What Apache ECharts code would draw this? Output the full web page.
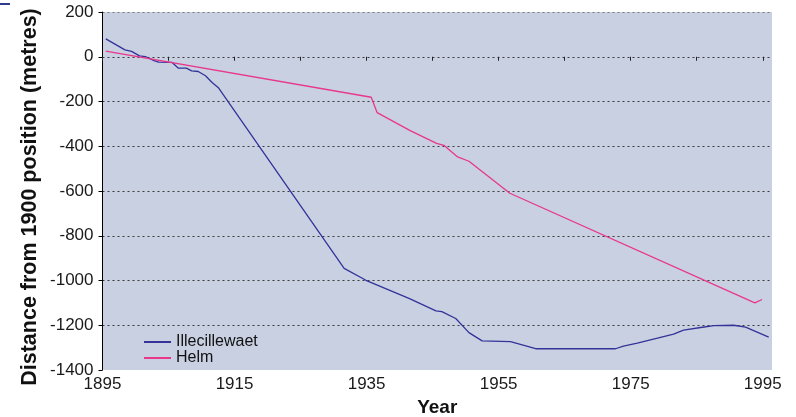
<!DOCTYPE html>
<html>
<head>
<meta charset="utf-8">
<script src="https://cdn.jsdelivr.net/npm/echarts@6/dist/echarts.min.js"></script>
<style>html,body{margin:0;padding:0;background:#fff}#c{width:796px;height:417px}</style>
</head>
<body>
<div id="c"></div>
<script>
const seriesNames = ['Illecillewaet', 'Helm'];
const illeYears = [1895.5,1898.4,1899.4,1900.6,1901.5,1902.8,1903.5,1905.5,1906.5,1907.7,1908.5,1909.5,1910.6,1911.6,1912.6,1931.6,1934.9,1941.5,1945.5,1946.4,1948.5,1950.5,1952.5,1956.8,1960.6,1972.7,1973.9,1976,1981.5,1983,1985.6,1987.6,1990.6,1992.4,1995.9];
const illeValues = [80,31,24,4,1,-17,-24,-25,-51,-51,-63,-66,-85,-115,-140,-946,-999,-1081,-1136,-1139,-1170,-1233,-1270,-1273,-1305,-1305,-1293,-1280,-1240,-1222,-1210,-1202,-1200,-1208,-1253];
const helmYears = [1895.5,1935.7,1936.6,1941.6,1945.6,1946.7,1948.7,1950.5,1956.7,1993.8,1994.9];
const helmValues = [25,-181,-250,-330,-387,-396,-446,-467,-610,-1100,-1085];
const xTickValues = [1895,1905,1915,1925,1935,1945,1955,1965,1975,1985,1995];
const xLabelValues = [1895,1915,1935,1955,1975,1995];
const yTitle = 'Distance from 1900 position (metres)';
const xTitle = 'Year';

const chart = echarts.init(document.getElementById('c'), null, {renderer: 'canvas'});
const pair = (xs, ys) => xs.map((x, i) => [x, ys[i]]);
chart.setOption({
  animation: false,
  textStyle: {fontFamily: 'Liberation Sans, Arial, sans-serif'},
  grid: {left: 102.5, right: 24, top: 12, bottom: 47, outerBoundsMode: 'none', containLabel: false,
         show: true, backgroundColor: '#C8D0E2', borderWidth: 0},
  legend: {
    orient: 'vertical', left: 139, top: 329, itemWidth: 27, itemHeight: 2, itemGap: 0,
    icon: 'rect',
    textStyle: {fontSize: 16, color: '#111', lineHeight: 15},
    data: seriesNames
  },
  xAxis: {
    type: 'value', min: 1895, max: 1996.4,
    name: xTitle, nameLocation: 'middle', nameGap: 23,
    nameTextStyle: {fontSize: 19, fontWeight: 'bold', color: '#111'},
    axisLine: {show: false},
    axisTick: {show: true, length: 4, customValues: xTickValues, lineStyle: {color: '#222'}},
    axisLabel: {customValues: xLabelValues, fontSize: 17, color: '#1a1a1a', margin: 6, formatter: v => String(v)},
    splitLine: {show: false}
  },
  yAxis: {
    type: 'value', min: -1400, max: 200, interval: 200,
    axisLine: {show: true, onZero: false, lineStyle: {color: '#000', width: 1}},
    axisTick: {show: true, length: 4, lineStyle: {color: '#000'}},
    axisLabel: {fontSize: 17, color: '#1a1a1a', margin: 9, formatter: v => String(v)},
    splitLine: {show: true, lineStyle: {color: ['rgba(0,0,0,0)','#3a3a3a','#3a3a3a','#3a3a3a','#3a3a3a','#3a3a3a','#3a3a3a','#3a3a3a','#7a7a7a'], type: [2,3], width: 1}}
  },
  graphic: [
    {type: 'text', x: 30, y: 197, rotation: Math.PI / 2,
     style: {text: yTitle, font: 'bold 21.5px "Liberation Sans", Arial, sans-serif', fill: '#111', textAlign: 'center', textVerticalAlign: 'middle'}},
    {type: 'rect', shape: {x: 0, y: 3, width: 10, height: 2}, style: {fill: '#2E3A8C'}}
  ],
  series: [
    {name: seriesNames[0], type: 'line', symbol: 'none', data: pair(illeYears, illeValues),
     lineStyle: {color: '#333399', width: 1.3}, itemStyle: {color: '#333399'}},
    {name: seriesNames[1], type: 'line', symbol: 'none', data: pair(helmYears, helmValues),
     lineStyle: {color: '#E8378C', width: 1.3}, itemStyle: {color: '#E8378C'}}
  ]
});
</script>
</body>
</html>
